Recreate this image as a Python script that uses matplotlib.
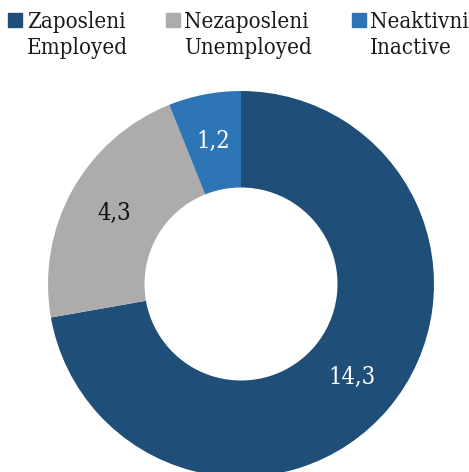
import matplotlib
matplotlib.use("Agg")
import matplotlib.pyplot as plt
from matplotlib.patches import Rectangle
from matplotlib import font_manager as fm

categories_sr = ["Zaposleni", "Nezaposleni", "Neaktivni"]
categories_en = ["Employed", "Unemployed", "Inactive"]
values = [14.3, 4.3, 1.2]
value_labels = ["14,3", "4,3", "1,2"]
colors = ["#1F4E79", "#AEABAB", "#2E75B6"]
label_colors = ["white", "#111111", "white"]

W, H = 469, 472
fig = plt.figure(figsize=(W / 100, H / 100), dpi=100)
font = "DejaVu Serif"
fp_leg = fm.FontProperties(family=font, stretch="condensed", size=16)
fp_lab = fm.FontProperties(family=font, stretch="condensed", size=17)

# donut: center (241, 284) px, radius 193 px
cx, cy, r = 241, 284, 193
ax = fig.add_axes([(cx - r) / W, (H - cy - r) / H, 2 * r / W, 2 * r / H])
wedges, texts = ax.pie(values, colors=colors, startangle=90, counterclock=False,
                       radius=1.0, wedgeprops=dict(width=0.5, linewidth=0),
                       labels=value_labels, labeldistance=0.75)
for t, c in zip(texts, label_colors):
    t.set_color(c)
    t.set_fontproperties(fp_lab)
    t.set_ha("center")
    t.set_va("center")
ax.set_xlim(-1, 1)
ax.set_ylim(-1, 1)
ax.set_aspect("equal")
ax.axis("off")
for w in wedges:
    w.set_clip_on(False)

# legend (manual, square aligned to first line)
sq_x = [8, 166, 352]
txt_x = [27, 184, 370]
sq = 14
for i in range(3):
    fig.patches.append(Rectangle((sq_x[i] / W, 1 - 27 / H), sq / W, sq / H,
                                 transform=fig.transFigure, color=colors[i]))
    fig.text(txt_x[i] / W, 1 - 28 / H, categories_sr[i], fontproperties=fp_leg,
             color="#1a1a1a", ha="left", va="baseline")
    fig.text(txt_x[i] / W, 1 - 54 / H, categories_en[i], fontproperties=fp_leg,
             color="#1a1a1a", ha="left", va="baseline")

fig.savefig("out.png", dpi=100)
